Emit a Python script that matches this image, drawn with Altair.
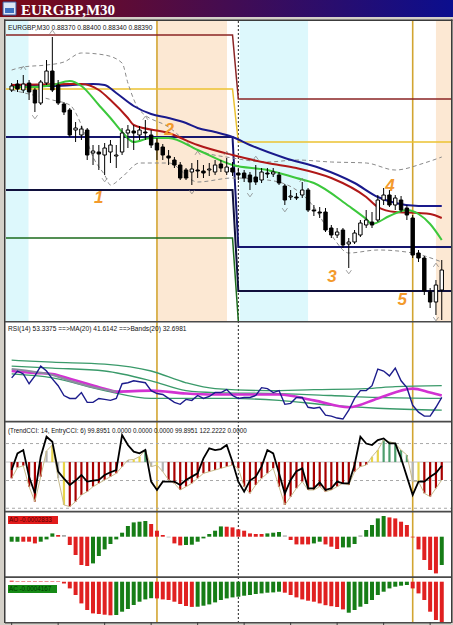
import altair as alt
import pandas as pd

# ---------------- data ----------------
bar_index = list(range(75))

opens = [0.88570,0.88576,0.88570,0.88577,0.88570,0.88557,0.88577,0.88589,0.88575,0.88556,
         0.88550,0.88530,0.88525,0.88530,0.88507,0.88508,0.88505,0.88508,0.88504,0.88508,
         0.88527,0.88529,0.88525,0.88528,0.88525,0.88517,0.88513,0.88504,0.88500,0.88495,
         0.88490,0.88488,0.88490,0.88489,0.88490,0.88488,0.88496,0.88488,0.88492,0.88487,
         0.88487,0.88485,0.88483,0.88480,0.88487,0.88486,0.88485,0.88474,0.88463,0.88463,
         0.88465,0.88470,0.88450,0.88448,0.88448,0.88432,0.88425,0.88430,0.88416,0.88418,
         0.88425,0.88435,0.88438,0.88440,0.88460,0.88465,0.88455,0.88460,0.88452,0.88442,
         0.88407,0.88402,0.88368,0.88358,0.88370]
highs = [0.88577,0.88580,0.88585,0.88580,0.88572,0.88580,0.88600,0.88623,0.88580,0.88558,
         0.88552,0.88538,0.88534,0.88532,0.88515,0.88515,0.88517,0.88520,0.88515,0.88532,
         0.88535,0.88535,0.88534,0.88540,0.88530,0.88522,0.88516,0.88510,0.88503,0.88498,
         0.88492,0.88497,0.88500,0.88495,0.88497,0.88500,0.88500,0.88502,0.88498,0.88492,
         0.88490,0.88488,0.88495,0.88492,0.88492,0.88492,0.88488,0.88476,0.88470,0.88467,
         0.88478,0.88472,0.88455,0.88453,0.88452,0.88435,0.88432,0.88432,0.88422,0.88430,
         0.88440,0.88450,0.88448,0.88465,0.88472,0.88470,0.88465,0.88464,0.88455,0.88445,
         0.88410,0.88404,0.88372,0.88380,0.88400]
lows = [0.88568,0.88568,0.88567,0.88560,0.88548,0.88555,0.88575,0.88568,0.88555,0.88545,
        0.88523,0.88518,0.88520,0.88500,0.88495,0.88490,0.88485,0.88497,0.88492,0.88505,
        0.88512,0.88510,0.88520,0.88520,0.88512,0.88500,0.88500,0.88495,0.88492,0.88480,
        0.88480,0.88475,0.88482,0.88482,0.88484,0.88485,0.88488,0.88485,0.88484,0.88480,
        0.88478,0.88470,0.88475,0.88477,0.88482,0.88483,0.88475,0.88455,0.88460,0.88460,
        0.88462,0.88448,0.88444,0.88442,0.88428,0.88422,0.88422,0.88412,0.88392,0.88416,
        0.88423,0.88432,0.88432,0.88438,0.88455,0.88453,0.88450,0.88448,0.88440,0.88402,
        0.88398,0.88365,0.88352,0.88345,0.88340]
closes = [0.88574,0.88571,0.88576,0.88568,0.88557,0.88578,0.88589,0.88570,0.88557,0.88548,
          0.88525,0.88532,0.88531,0.88505,0.88509,0.88506,0.88512,0.88515,0.88505,0.88527,
          0.88530,0.88527,0.88530,0.88527,0.88515,0.88510,0.88505,0.88502,0.88495,0.88482,
          0.88482,0.88491,0.88489,0.88487,0.88491,0.88495,0.88492,0.88493,0.88488,0.88485,
          0.88482,0.88478,0.88478,0.88488,0.88486,0.88488,0.88477,0.88460,0.88464,0.88462,
          0.88470,0.88450,0.88449,0.88447,0.88430,0.88425,0.88428,0.88415,0.88418,0.88427,
          0.88437,0.88440,0.88435,0.88460,0.88465,0.88455,0.88462,0.88450,0.88445,0.88405,
          0.88402,0.88369,0.88358,0.88375,0.88390]

ma_fast_bar = [0,4,7,10,12,15,17,19,21,24,27,32,38,44,49,52,58,61,62,65,68,70,72,74]
ma_fast = [0.88573,0.88573,0.88575,0.88579,0.88574,0.88555,0.88542,0.88528,0.88518,0.88522,0.88522,
           0.88510,0.88495,0.88490,0.88482,0.88477,0.88454,0.88441,0.88436,0.88444,0.88450,0.88446,
           0.88436,0.88420]
ma_mid_bar = [0,10,12,15,17,20,21,27,32,38,44,49,55,61,63,66,70,72,74]
ma_mid = [0.88575,0.88576,0.88576,0.88570,0.88560,0.88542,0.88535,0.88527,0.88515,0.88505,0.88497,
          0.88492,0.88482,0.88463,0.88453,0.88448,0.88447,0.88446,0.88442]
ma_slow_bar = [0,7,14,16,18,21,24,27,30,32,35,38,41,47,53,59,63,66,70,74]
ma_slow = [0.88574,0.88574,0.88576,0.88575,0.88567,0.88554,0.88546,0.88542,0.88537,0.88532,0.88528,
           0.88523,0.88515,0.88502,0.88492,0.88477,0.88463,0.88457,0.88454,0.88454]
band_up_bar = [0,2,6,9,12,16,19,20,22,27,32,38,44,49,55,61,66,71,74]
band_up = [0.88590,0.88593,0.88595,0.88598,0.88607,0.88605,0.88597,0.88577,0.88550,0.88533,0.88510,
           0.88502,0.88498,0.88500,0.88498,0.88497,0.88490,0.88497,0.88503]
band_lo_bar = [0,7,10,12,14,16,17,19,22,27,32,38,44,49,52,55,58,63,69,74]
band_lo = [0.88570,0.88560,0.88555,0.88535,0.88503,0.88485,0.88475,0.88483,0.88497,0.88497,0.88478,
           0.88482,0.88480,0.88470,0.88453,0.88425,0.88407,0.88410,0.88407,0.88398]

pivot_day1 = [0.88625, 0.88571, 0.88523, 0.88470, 0.88422]
pivot_day2 = [0.88561, 0.88518, 0.88413, 0.88369, 0.88300]
pivot_color = ["#8B2525", "#EBC232", "#16166E", "#10103C", "#1D6B1D"]
pivot_width = [1.5, 1.5, 2, 2, 1.5]
day_last_bar, day_first_bar = 38, 39

frac_up_bar = [2, 7, 23, 32, 37, 42, 50, 73]
frac_up = [0.88592, 0.88628, 0.88542, 0.88507, 0.88507, 0.88502, 0.88480, 0.88395]
frac_dn_bar = [4, 16, 31, 41, 47, 58, 73]
frac_dn = [0.88543, 0.88480, 0.88468, 0.88465, 0.88450, 0.88388, 0.88341]

wave_bar = [15, 27.1, 55.1, 65.1, 67.2]
wave_price = [0.88462, 0.88530, 0.88383, 0.88474, 0.88360]
wave_text = ["1", "2", "3", "4", "5"]

session_start = [-1, 25, 39.25, 73]
session_end = [2.9, 37.05, 51, 76]
session_kind = ["asia", "europe", "asia", "europe"]

gold_bars = [25, 69]
dotted_bars = [39]
time_ticks = [0, 8, 16, 24, 32, 40, 48, 56, 64, 72]

rsi = [43,50,47,37,45,55,50,42,35,25,
       22,22,28,18,18,22,21,20,22,37,
       38,40,39,38,30,27,26,22,18,16,
       21,20,25,22,24,28,28,31,25,22,
       23,23,25,33,32,28,30,16,17,23,
       23,13,12,13,5,4,2,1,10,22,
       30,30,35,52,50,45,53,40,33,15,
       8,4,4,13,23]
rsi_ma_bar = [0,4,7,10,13,16,18,24,30,35,41,46,52,58,63,69,72,74]
rsi_ma = [50,48,47,42,37,32,29,30,27,26,26,26,20,13,22,32,28,25]
rsi_sig_bar = [0,4,7,10,13,16,18]
rsi_sig = [52,49,46,40,35,31,29]
rsi_bu_bar = [0,7,16,24,30,35,44,52,61,66,74]
rsi_bu = [61,59,57,50,38,32,30,31,32,34,35]
rsi_bm_bar = [0,7,16,24,30,35,46,55,63,74]
rsi_bm = [55,53,50,40,30,28,27,25,23,22]
rsi_bl_bar = [0,7,16,24,38,46,55,63,74]
rsi_bl = [47,43,30,22,22,20,15,12,10]

cci_hist = [-88,-30,-20,-133,-214,-79,60,92,-88,-232,
            -241,-214,-178,-160,-133,-115,-97,-79,-61,-25,
            11,14,29,65,-25,-16,-52,-97,-115,-151,
            -133,-115,-88,-61,-52,-43,-34,-25,-16,-34,
            -133,-169,-124,-88,-61,-34,-133,-232,-187,-142,
            -106,-151,-151,-133,-160,-151,-133,-115,-124,-52,
            -25,-16,29,65,119,110,101,65,38,-106,
            -106,-169,-187,-142,-97]
cci_state = ["r","r","r","r","r","r","n","y","n","y",
             "r","r","r","r","r","r","r","r","r","r",
             "n","y","y","g","n","y","n","r","r","r",
             "r","r","r","r","r","r","r","r","r","r",
             "r","r","r","r","r","r","r","r","r","r",
             "r","r","r","r","r","r","r","r","r","r",
             "r","r","y","y","g","g","g","g","g","n",
             "y","r","r","r","r"]
cci_trend = [-43,47,65,-80,-169,29,137,110,-52,-90,
             -124,-100,-70,-106,-100,-97,-70,-55,-43,146,
             92,56,47,65,-106,-151,-106,-106,-106,-124,
             -97,-79,-61,20,74,65,70,92,0,-106,
             -160,-100,-79,-25,65,47,-60,-170,-97,-50,
             -34,-142,-142,-110,-151,-142,-106,-115,-115,-16,
             137,100,92,119,128,101,101,20,-79,-178,
             -106,-106,-80,-60,-20]
cci_levels = [100, -100, -250]

ao = [-0.000050,-0.000050,-0.000050,-0.000050,-0.000067,-0.000050,-0.000027,0.000033,0.000017,0.000017,
      -0.000083,-0.000183,-0.000283,-0.000293,-0.000267,-0.000193,-0.000127,-0.000073,-0.000027,0.000040,
      0.000107,0.000143,0.000150,0.000157,0.000127,0.000060,0.000017,-0.000007,-0.000067,-0.000087,
      -0.000083,-0.000080,-0.000050,-0.000017,0.000027,0.000060,0.000103,0.000100,0.000093,0.000073,
      0.000060,0.000033,0.000027,0.000027,0.000033,0.000040,0.000047,0.000013,-0.000033,-0.000077,
      -0.000077,-0.000077,-0.000067,-0.000050,-0.000077,-0.000100,-0.000123,-0.000107,-0.000107,-0.000073,
      0.000013,0.000067,0.000117,0.000183,0.000207,0.000193,0.000183,0.000150,0.000117,-0.000007,
      -0.000127,-0.000233,-0.000333,-0.000367,-0.000283]
ao_state = ["g","g","r","r","r","g","g","g","r","n",
            "r","r","r","r","g","g","g","g","g","g",
            "g","g","g","g","r","r","r","n","r","r",
            "g","g","g","g","g","g","g","r","r","r",
            "r","r","r","r","g","g","g","n","r","r",
            "r","r","g","g","r","r","r","g","g","g",
            "n","g","g","g","g","r","r","r","r","r",
            "r","r","r","r","g"]
ac = [0.000010,0.000005,0.000005,0.000005,0.000005,0.000005,0.000005,0.000005,0.000005,-0.000017,
      -0.000067,-0.000133,-0.000217,-0.000283,-0.000317,-0.000323,-0.000330,-0.000336,-0.000333,-0.000300,
      -0.000273,-0.000233,-0.000200,-0.000177,-0.000165,-0.000167,-0.000177,-0.000183,-0.000200,-0.000223,
      -0.000243,-0.000252,-0.000250,-0.000240,-0.000227,-0.000207,-0.000183,-0.000167,-0.000157,-0.000150,
      -0.000140,-0.000133,-0.000123,-0.000117,-0.000110,-0.000107,-0.000100,-0.000110,-0.000133,-0.000157,
      -0.000177,-0.000190,-0.000200,-0.000217,-0.000235,-0.000245,-0.000253,-0.000277,-0.000310,-0.000283,
      -0.000250,-0.000223,-0.000183,-0.000133,-0.000100,-0.000067,-0.000050,-0.000040,-0.000033,-0.000067,
      -0.000117,-0.000183,-0.000300,-0.000383,-0.000417]
ac_state = ["r","r","r","r","r","r","r","r","r","r",
            "r","r","r","r","r","r","r","r","g","g",
            "g","g","g","g","g","r","r","r","r","r",
            "r","r","g","g","g","g","g","g","g","g",
            "g","g","g","g","g","g","g","r","r","r",
            "r","r","r","r","r","r","r","r","g","g",
            "g","g","g","g","g","g","g","g","g","r",
            "r","r","r","r","r"]

# ---------------- scales ----------------
XS = alt.Scale(domain=[-0.113, 74.73], range=[6, 451], clamp=True, nice=False, zero=False)
MAIN = ([0.88339, 0.88639], [321, 21])
RSI = ([0, 100], [420, 322])
CCI = ([-254, 222], [509, 421])
AO = ([-0.00038, 0.00026], [574.7, 510.7])
AC = ([-0.000403, 0.00005], [622, 576.7])


def xq(f):
    return alt.X(f"{f}:Q", scale=XS, axis=None)


def yq(f, panel):
    dom, rng = panel
    return alt.Y(f"{f}:Q", scale=alt.Scale(domain=dom, range=rng, clamp=True, nice=False, zero=False), axis=None)


ONE = pd.DataFrame({"k": [0]})


def box(x1, x2, y1, y2, **mk):
    return alt.Chart(ONE).mark_rect(**mk).encode(
        x=alt.value(x1), x2=alt.value(x2), y=alt.value(y1), y2=alt.value(y2))


def label(txt, x, y, **mk):
    return alt.Chart(ONE).mark_text(align="left", baseline="middle", text=txt, **mk).encode(
        x=alt.value(x), y=alt.value(y))


def curve(xs, vs, panel, **mk):
    d = pd.DataFrame({"i": xs, "v": vs})
    return alt.Chart(d).mark_line(**mk).encode(x=xq("i"), y=yq("v", panel))


layers = []
# window chrome
layers.append(box(0, 453, 0, 625, color="#D4D0C8"))
layers.append(box(0, 453, 0, 17, color=alt.LinearGradient(
    gradient="linear", x1=0, x2=1, y1=0, y2=0,
    stops=[alt.GradientStop(color="#7D0A14", offset=0), alt.GradientStop(color="#0B0E8E", offset=1)])))
layers.append(box(3, 16, 2, 15, color="#DCE6F5", stroke="#3B5BA0", strokeWidth=1))
layers.append(box(5, 14, 8, 13, color="#3B6FC0"))
layers.append(label("EURGBP,M30", 21, 9.5, font="Liberation Serif", fontSize=15, fontWeight="bold", color="white"))
layers.append(box(5, 451, 21, 622, color="white"))

# sessions
sess = pd.DataFrame({"s": session_start, "e": session_end, "k": session_kind})
layers.append(alt.Chart(sess).mark_rect().encode(
    x=xq("s"), x2="e", y=alt.value(21), y2=alt.value(321),
    color=alt.Color("k:N", scale=alt.Scale(domain=["asia", "europe"], range=["#DDF8FC", "#FCE8D3"]), legend=None)))

# vertical markers
layers.append(alt.Chart(pd.DataFrame({"i": gold_bars})).mark_rule(color="#D2A531", strokeWidth=1.6).encode(
    x=xq("i"), y=alt.value(21), y2=alt.value(622)))
layers.append(alt.Chart(pd.DataFrame({"i": dotted_bars})).mark_rule(color="#222222", strokeWidth=1, strokeDash=[2, 2]).encode(
    x=xq("i"), y=alt.value(21), y2=alt.value(622)))

# pivot levels
for d1, d2, col, w in zip(pivot_day1, pivot_day2, pivot_color, pivot_width):
    if d2 < MAIN[0][0]:
        xs, vs = [-1, day_last_bar, day_first_bar], [d1, d1, d2]
    else:
        xs, vs = [-1, day_last_bar, day_first_bar, 76], [d1, d1, d2, d2]
    layers.append(curve(xs, vs, MAIN, color=col, strokeWidth=w))

# envelope + moving averages
layers.append(curve(band_up_bar, band_up, MAIN, color="#8A8A8A", strokeWidth=1, strokeDash=[4, 3], interpolate="monotone"))
layers.append(curve(band_lo_bar, band_lo, MAIN, color="#8A8A8A", strokeWidth=1, strokeDash=[4, 3], interpolate="monotone"))
layers.append(curve(ma_slow_bar, ma_slow, MAIN, color="#1A1A8C", strokeWidth=2, interpolate="monotone"))
layers.append(curve(ma_mid_bar, ma_mid, MAIN, color="#B01818", strokeWidth=2, interpolate="monotone"))
layers.append(curve(ma_fast_bar, ma_fast, MAIN, color="#3CC83C", strokeWidth=2, interpolate="monotone"))

# candles
cd = pd.DataFrame({"i": bar_index, "o": opens, "h": highs, "l": lows, "c": closes})
layers.append(alt.Chart(cd).mark_rule(color="black", strokeWidth=1).encode(
    x=xq("i"), y=yq("l", MAIN), y2="h"))
layers.append(alt.Chart(cd).mark_bar(size=3.4, stroke="black", strokeWidth=1).encode(
    x=xq("i"), y=yq("o", MAIN), y2="c",
    fill=alt.condition("datum.c >= datum.o", alt.value("white"), alt.value("black"))))

# fractals
layers.append(alt.Chart(pd.DataFrame({"i": frac_up_bar, "v": frac_up})).mark_point(
    shape="M-1,0.7L0,-0.7L1,0.7", filled=False, color="#7A7A7A", size=28, strokeWidth=1).encode(
    x=xq("i"), y=yq("v", MAIN)))
layers.append(alt.Chart(pd.DataFrame({"i": frac_dn_bar, "v": frac_dn})).mark_point(
    shape="M-1,-0.7L0,0.7L1,-0.7", filled=False, color="#7A7A7A", size=28, strokeWidth=1).encode(
    x=xq("i"), y=yq("v", MAIN)))

# wave counts
layers.append(alt.Chart(pd.DataFrame({"i": wave_bar, "v": wave_price, "t": wave_text})).mark_text(
    font="Liberation Sans", fontSize=17, fontWeight="bold", fontStyle="italic", color="#F39A2C", baseline="middle").encode(
    x=xq("i"), y=yq("v", MAIN), text="t:N"))

layers.append(label("EURGBP,M30  0.88370 0.88400 0.88340 0.88390", 8, 28, font="Liberation Sans", fontSize=6.6, color="#111111"))

# RSI panel
layers.append(curve(rsi_bu_bar, rsi_bu, RSI, color="#3A9A6A", strokeWidth=1.3, interpolate="monotone"))
layers.append(curve(rsi_bm_bar, rsi_bm, RSI, color="#3A9A6A", strokeWidth=1.3, interpolate="monotone"))
layers.append(curve(rsi_bl_bar, rsi_bl, RSI, color="#3A9A6A", strokeWidth=1.3, interpolate="monotone"))
layers.append(curve(rsi_ma_bar, rsi_ma, RSI, color="#D232D2", strokeWidth=2.6, interpolate="monotone"))
layers.append(curve(rsi_sig_bar, rsi_sig, RSI, color="#8C8C9E", strokeWidth=2, interpolate="monotone"))
layers.append(curve(bar_index, rsi, RSI, color="#1C1C8C", strokeWidth=1.4))
layers.append(label("RSI(14) 53.3375  ==>MA(20) 41.6142  ==>Bands(20) 32.6981", 8, 329, font="Liberation Sans", fontSize=6.6, color="#111111"))

# CCI panel
layers.append(alt.Chart(pd.DataFrame({"v": cci_levels})).mark_rule(color="#A8A8A8", strokeWidth=1, strokeDash=[3, 3]).encode(
    y=yq("v", CCI), x=alt.value(6), x2=alt.value(451)))
layers.append(alt.Chart(pd.DataFrame({"v": [0]})).mark_rule(color="#C4C4C4", strokeWidth=1).encode(
    y=yq("v", CCI), x=alt.value(6), x2=alt.value(451)))
cci_df = pd.DataFrame({"i": bar_index, "v": cci_hist, "s": cci_state, "t": cci_trend, "b": [0] * 75})
layers.append(alt.Chart(cci_df).mark_bar(size=2.2).encode(
    x=xq("i"), y=yq("v", CCI), y2="b",
    color=alt.Color("s:N", scale=alt.Scale(domain=["r", "y", "g", "n"], range=["#A80000", "#E8D44A", "#4E9E6E", "#B4B4B4"]), legend=None)))
layers.append(alt.Chart(cci_df).mark_line(color="#C8BC8C", strokeWidth=1).encode(x=xq("i"), y=yq("v", CCI)))
layers.append(alt.Chart(cci_df).mark_line(color="#000000", strokeWidth=1.8).encode(x=xq("i"), y=yq("t", CCI)))
layers.append(label("(TrendCCI: 14, EntryCCI: 6)  99.8951 0.0000 0.0000 0.0000 99.8951 122.2222 0.0000", 8, 431, font="Liberation Sans", fontSize=6.3, color="#111111"))

# AO panel
ao_df = pd.DataFrame({"i": bar_index, "v": ao, "s": ao_state, "b": [0.0] * 75})
layers.append(alt.Chart(ao_df).mark_bar(size=4).encode(
    x=xq("i"), y=yq("v", AO), y2="b",
    color=alt.Color("s:N", scale=alt.Scale(domain=["g", "r", "n"], range=["#167D16", "#E02020", "#A8A8A8"]), legend=None)))
layers.append(box(8, 58, 516, 524, color="#E21C1C"))
layers.append(label("AO -0.0002833", 9, 520, font="Liberation Sans", fontSize=6.3, color="#5A0000"))

# AC panel
ac_df = pd.DataFrame({"i": bar_index, "v": ac, "s": ac_state, "b": [0.0] * 75})
layers.append(alt.Chart(ac_df).mark_bar(size=4).encode(
    x=xq("i"), y=yq("v", AC), y2="b",
    color=alt.Color("s:N", scale=alt.Scale(domain=["g", "r"], range=["#167D16", "#E02020"]), legend=None)))
layers.append(box(8, 57, 585, 593, color="#168A16"))
layers.append(label("AC -0.0004167", 9, 589, font="Liberation Sans", fontSize=6.3, color="#003A00"))

# frame and separators
layers.append(box(4, 5.5, 19.5, 623, color="#3C3C3C"))
layers.append(box(451, 452.5, 19.5, 623, color="#3C3C3C"))
layers.append(box(4, 452.5, 19.5, 21, color="#3C3C3C"))
for ys in [321, 420.8, 510.8, 576.3, 622]:
    layers.append(box(5, 451, ys, ys + 1.6, color="#4A4A4A"))
layers.append(alt.Chart(pd.DataFrame({"i": time_ticks})).mark_rule(color="#3C3C3C", strokeWidth=1).encode(
    x=xq("i"), y=alt.value(622), y2=alt.value(625)))

chart = alt.layer(*layers).properties(
    width=453, height=625, padding=0,
    autosize=alt.AutoSizeParams(type="none"),
).resolve_scale(y="independent", color="independent").configure_view(stroke=None)

chart.save("out.html", embed_options={"renderer": "svg", "actions": False})
